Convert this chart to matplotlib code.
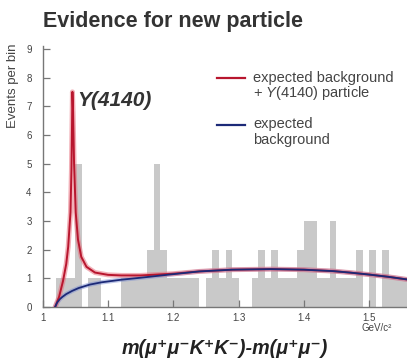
import numpy as np
import matplotlib
matplotlib.use('Agg')
import matplotlib.pyplot as plt
from matplotlib.lines import Line2D

plt.rcParams['font.family'] = ['Liberation Sans', 'DejaVu Sans']
plt.rcParams['mathtext.fontset'] = 'custom'
plt.rcParams['mathtext.rm'] = 'Liberation Sans'
plt.rcParams['mathtext.it'] = 'Liberation Sans:italic'

# --- dane: histogram (lewe krawędzie binów, 10 MeV) ---
bin_left = np.round(np.arange(1.02, 1.555, 0.01), 3)
counts = [1, 1, 1, 5, 0, 1, 1, 0, 0, 0,      # 1.02 - 1.11
          1, 1, 1, 1, 2, 5, 2, 1, 1, 1,      # 1.12 - 1.21
          1, 1, 0, 1, 2, 1, 2, 1, 0, 0,      # 1.22 - 1.31
          1, 2, 1, 2, 1, 1, 1, 2, 3, 3,      # 1.32 - 1.41
          1, 1, 3, 1, 1, 1, 2, 0, 2, 0,      # 1.42 - 1.51
          2, 1, 1, 1]                        # 1.52 - 1.55

# tło
bg_x = [1.019, 1.022, 1.026, 1.030, 1.036, 1.045, 1.055, 1.072, 1.090,
        1.120, 1.150, 1.190, 1.240, 1.290, 1.350, 1.400, 1.445, 1.470,
        1.500, 1.530, 1.558]
bg_y = [0.0, 0.15, 0.27, 0.35, 0.45, 0.56, 0.66, 0.78, 0.86,
        0.95, 1.02, 1.12, 1.24, 1.30, 1.32, 1.30, 1.25, 1.20,
        1.13, 1.05, 0.96]

# tło + Y(4140)
sig_x = [1.019, 1.025, 1.031, 1.036, 1.039, 1.0425, 1.044, 1.0455, 1.0465,
         1.048, 1.0505, 1.054, 1.059, 1.067, 1.080, 1.100, 1.120, 1.150,
         1.200, 1.240]
sig_y = [0.0, 0.35, 0.9, 1.5, 2.1, 3.3, 4.8, 7.5, 6.8,
         5.0, 3.3, 2.35, 1.75, 1.4, 1.2, 1.12, 1.1, 1.1,
         1.16, 1.24]
sig_x = sig_x + bg_x[13:]
sig_y = sig_y + bg_y[13:]

xticks = [1.0, 1.1, 1.2, 1.3, 1.4, 1.5]
xticklabels = ['1', '1.1', '1.2', '1.3', '1.4', '1.5']
yticks = list(range(10))

RED = '#b8162e'
RED_L = '#e8707e'
BLUE = '#1c2a78'
BLUE_L = '#7d8fd0'
TXT = '#444444'
AX = '#777777'

fig = plt.figure(figsize=(4.07, 3.62), dpi=100)
fig.patch.set_facecolor('white')
ax = fig.add_axes([0.105, 0.152, 0.895, 0.721])

ax.bar(bin_left, counts, width=0.01, align='edge', color='#c9c9c9',
       edgecolor='none', zorder=1)

# krzywe z jasną obwódką
ax.plot(bg_x, bg_y, color=BLUE_L, lw=3.2, alpha=0.5, zorder=2,
        solid_capstyle='round')
ax.plot(sig_x, sig_y, color=RED_L, lw=3.6, alpha=0.55, zorder=3,
        solid_joinstyle='round')
ax.plot(sig_x, sig_y, color=RED, lw=1.4, zorder=4)
ax.plot(bg_x, bg_y, color=BLUE, lw=1.3, zorder=5)

ax.set_xlim(1.0, 1.558)
ax.set_ylim(0, 9.1)
ax.set_xticks(xticks)
ax.set_xticklabels(xticklabels)
ax.set_yticks(yticks)
for s in ['top', 'right']:
    ax.spines[s].set_visible(False)
for s in ['left', 'bottom']:
    ax.spines[s].set_color(AX)
    ax.spines[s].set_linewidth(1.0)
ax.tick_params(direction='in', length=5, width=0.9, color=AX,
               labelsize=7, labelcolor=TXT)
ax.tick_params(axis='x', pad=4)
ax.tick_params(axis='y', pad=8)

# napisy
fig.text(43 / 407, 1 - 21 / 362, 'Evidence for new particle',
         fontsize=15.5, fontweight='bold', color='#333333',
         ha='left', va='center')
fig.text(13 / 407, 1 - 43 / 362, 'Events per bin', rotation=90,
         fontsize=9.5, color=TXT, ha='center', va='top')
ax.text(1.0525, 7.2, 'Y(4140)', fontsize=15, fontweight='bold',
        fontstyle='italic', color='#333333', ha='left', va='center')
fig.text(362 / 407, 1 - 328 / 362, 'GeV/c²', fontsize=7, color=TXT,
         ha='left', va='center')
fig.text(225 / 407, 1 - 348 / 362, 'm(μ⁺μ⁻K⁺K⁻)-m(μ⁺μ⁻)',
         fontsize=14.2, fontweight='bold', fontstyle='italic',
         color='#222222', ha='center', va='center')

# legenda
fig.add_artist(Line2D([217 / 407, 245 / 407], [1 - 78 / 362] * 2,
                      color=RED, lw=1.6))
fig.add_artist(Line2D([217 / 407, 245 / 407], [1 - 125 / 362] * 2,
                      color=BLUE, lw=1.6))
fig.text(253 / 407, 1 - 78 / 362, 'expected background',
         fontsize=10.5, color=TXT, ha='left', va='center')
fig.text(253 / 407, 1 - 92.5 / 362, r'+ $\mathit{Y(4140)}$ particle',
         fontsize=10.5, color=TXT, ha='left', va='center')
fig.text(253 / 407, 1 - 124 / 362, 'expected',
         fontsize=10.5, color=TXT, ha='left', va='center')
fig.text(253 / 407, 1 - 140 / 362, 'background',
         fontsize=10.5, color=TXT, ha='left', va='center')

fig.savefig('out.png', dpi=100)
